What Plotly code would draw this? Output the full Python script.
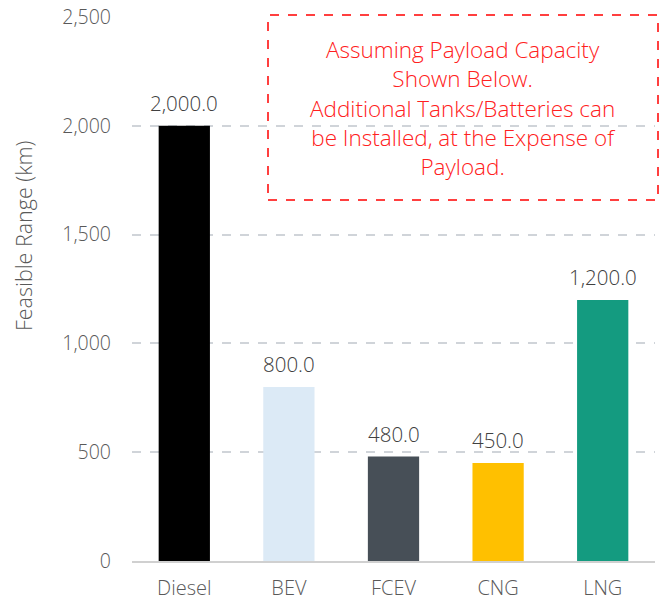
import plotly.graph_objects as go

categories = ["Diesel", "BEV", "FCEV", "CNG", "LNG"]
ranges_km = [2000.0, 800.0, 480.0, 450.0, 1200.0]
bar_colors = ["#000000", "#DCEAF6", "#474F57", "#FFC000", "#149B80"]
y_ticks = [0, 500, 1000, 1500, 2000, 2500]
y_tick_labels = ["0", "500", "1,000", "1,500", "2,000", "2,500"]
y_title = "Feasible Range (km)"
note_lines = [
    "Assuming Payload Capacity",
    "Shown Below.",
    "Additional Tanks/Batteries can",
    "be Installed, at the Expense of",
    "Payload.",
]

FONT = "Open Sans"
L, R, T, B = 132, 6, 17, 41
W, H = 661, 602
PW, PH = W - L - R, H - T - B


def px_x(x):
    return (x - L) / PW


def px_y(y):
    return (H - B - y) / PH


fig = go.Figure(
    go.Bar(
        x=categories,
        y=ranges_km,
        marker=dict(color=bar_colors, line=dict(width=0)),
        width=0.49,
        cliponaxis=False,
        hoverinfo="x+y",
    )
)

# Value labels above each bar
for cat, val in zip(categories, ranges_km):
    fig.add_annotation(
        x=cat,
        y=val,
        text=f"{val:,.1f}",
        showarrow=False,
        xanchor="center",
        yanchor="middle",
        yshift=23,
        font=dict(family=FONT, size=20.5, color="#404040", weight=300),
    )

fig.update_layout(
    width=W,
    height=H,
    margin=dict(l=L, r=R, t=T, b=B),
    paper_bgcolor="white",
    plot_bgcolor="white",
    showlegend=False,
    font=dict(family=FONT, color="#595959"),
    xaxis=dict(
        automargin=False,
        showgrid=False,
        showline=True,
        linecolor="#D0D0D0",
        linewidth=2,
        tickfont=dict(family=FONT, size=20, color="#595959", weight=300),
        ticks="",
        ticklabelstandoff=8,
    ),
    yaxis=dict(
        automargin=False,
        range=[0, 2500],
        tickvals=y_ticks,
        ticktext=y_tick_labels,
        showgrid=True,
        gridcolor="#D0D4D9",
        griddash="dash",
        gridwidth=2,
        zeroline=False,
        showline=False,
        tickfont=dict(family=FONT, size=19.5, color="#595959", weight=300),
        ticklabelstandoff=20,
    ),
)

# Vertical axis title
fig.add_annotation(
    xref="paper",
    yref="paper",
    x=px_x(23),
    y=px_y(236),
    xanchor="center",
    yanchor="middle",
    text=y_title,
    textangle=-90,
    showarrow=False,
    font=dict(family=FONT, size=21.5, color="#595959", weight=300),
)

# Dashed note box in the upper right of the plot
fig.add_shape(
    type="rect",
    xref="paper",
    yref="paper",
    x0=px_x(268),
    x1=px_x(658),
    y0=px_y(200),
    y1=px_y(15),
    line=dict(color="#FF0000", width=1.5, dash="dash"),
    fillcolor="rgba(0,0,0,0)",
)
fig.add_annotation(
    xref="paper",
    yref="paper",
    x=px_x((268 + 658) / 2),
    y=px_y(108),
    xanchor="center",
    yanchor="middle",
    text="<br>".join(note_lines),
    showarrow=False,
    align="center",
    font=dict(family=FONT, size=22.5, color="#FF2020", weight=300),
)

fig.write_html("out.html")
